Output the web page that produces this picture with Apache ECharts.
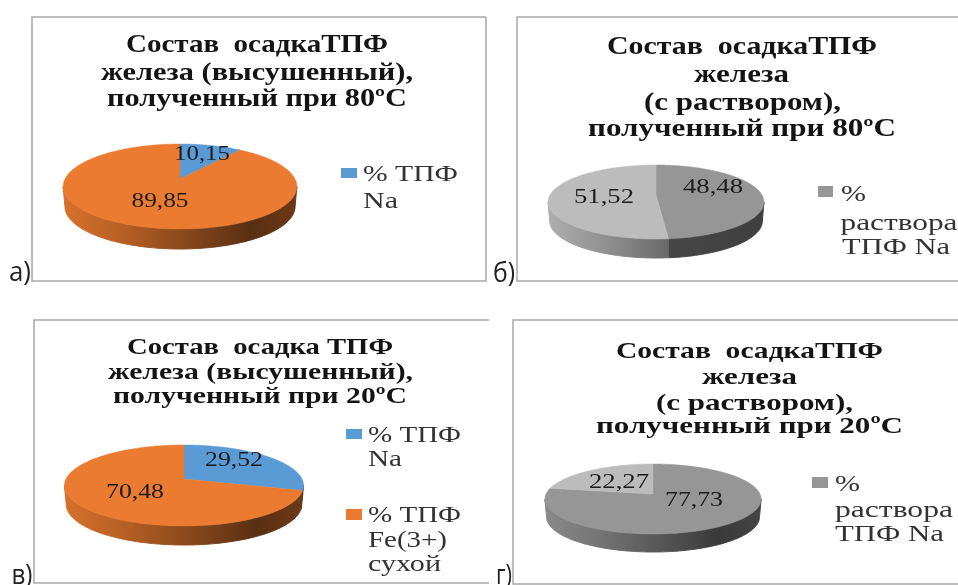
<!DOCTYPE html>
<html lang="ru">
<head>
<meta charset="utf-8">
<title>Состав осадка ТПФ железа</title>
<script src="https://cdn.jsdelivr.net/npm/echarts@6/dist/echarts.min.js"></script>
<style>
  html, body { margin: 0; padding: 0; background: #fff; }
  #chart { width: 958px; height: 585px; }
</style>
</head>
<body>
<div id="chart"></div>
<script>
// Slice values, in percent, clockwise from twelve o'clock
const valuesA = [10.15, 89.85];
const valuesB = [48.48, 51.52];
const valuesC = [29.52, 70.48];
const valuesD = [77.73, 22.27];

const colorsDry = ['#5b9bd5', '#ea7b30'];
const colorsWet = ['#969696', '#bcbcbc'];

const titleA = ['Состав  осадкаТПФ', 'железа (высушенный),', 'полученный при 80ºC'];
const titleB = ['Состав  осадкаТПФ', 'железа', '(с раствором),', 'полученный при 80ºC'];
const titleC = ['Состав  осадка ТПФ', 'железа (высушенный),', 'полученный при 20ºC'];
const titleD = ['Состав  осадкаТПФ', 'железа', '(с раствором),', 'полученный при 20ºC'];

const legendDry = ['% ТПФ', 'Na'];
const legendDry2 = ['% ТПФ', 'Fe(3+)', 'сухой'];
const legendWet = ['%', 'раствора', 'ТПФ Na'];

const SERIF = '"Liberation Serif", "Times New Roman", serif';
const FRAME = '#a8a8a8';
const TEXT_DROP = 1.5;

// Shading of a pie's side wall, from its left edge to its right edge
const wallShade = [[0, 0.92], [0.25, 0.78], [0.5, 0.6], [0.8, 0.38], [1, 0.46]];
const wallShadeDim = [[0, 0.6], [0.5, 0.47], [1, 0.42]];

// Layout of each panel: pie projection, text rows as [centre x, centre y, width]
const panels = [
  {
    letter: 'а)', letterBox: [20, 272, 22],
    values: valuesA, colors: colorsDry, walls: [wallShade, wallShade],
    frame: [[486, 17], [32, 17], [32, 281], [486, 281], [486, 17]],
    pie: { cx: 180, cy: 179, radius: 115, top: 35, bottom: 50, depth: 20 },
    labels: [[202, 153, 56], [160, 200, 57]],
    title: titleA, titleFont: 25,
    titleBoxes: [[257, 44, 262], [257, 72, 312], [257, 98, 300]],
    legend: [
      { swatch: [341, 168, 16, 10], color: colorsDry[0], lines: legendDry,
        boxes: [[410.5, 173, 95], [380.5, 200, 35]] }
    ]
  },
  {
    letter: 'б)', letterBox: [504, 273, 22],
    values: valuesB, colors: colorsWet, walls: [wallShadeDim, wallShade],
    frame: [[958, 17], [517, 17], [517, 281], [958, 281]],
    pie: { cx: 656, cy: 195, radius: 106, top: 30, bottom: 44, depth: 19 },
    labels: [[713, 186, 60], [604, 195.5, 60]],
    title: titleB, titleFont: 25,
    titleBoxes: [[742, 46, 270], [741.5, 74, 95], [742.5, 102, 197], [742, 128, 308]],
    legend: [
      { swatch: [818, 186, 15, 11], color: colorsWet[0], lines: legendWet,
        boxes: [[853.5, 193, 25], [899, 222, 117], [896, 246, 108]] }
    ]
  },
  {
    letter: 'в)', letterBox: [22, 575, 21],
    values: valuesC, colors: colorsDry, walls: [wallShade, wallShade],
    frame: [[489, 320], [34, 320], [34, 583], [489, 583]],
    pie: { cx: 184, cy: 479, radius: 118, top: 34, bottom: 47, depth: 19 },
    labels: [[234, 459, 58], [135, 491, 58]],
    title: titleC, titleFont: 23,
    titleBoxes: [[260, 347, 266], [260.5, 372, 305], [260, 396, 294]],
    legend: [
      { swatch: [346, 429, 16, 10], color: colorsDry[0], lines: legendDry,
        boxes: [[414.5, 434, 93], [385, 458, 34]] },
      { swatch: [346, 509, 16, 11], color: colorsDry[1], lines: legendDry2,
        boxes: [[414.5, 514, 93], [407.5, 539, 79], [404.5, 563, 73]] }
    ]
  },
  {
    letter: 'г)', letterBox: [504, 575, 16],
    values: valuesD, colors: colorsWet, walls: [wallShade, wallShade],
    frame: [[958, 320], [513, 320], [513, 584], [958, 584]],
    pie: { cx: 653, cy: 494, radius: 107, top: 30, bottom: 40, depth: 18 },
    labels: [[694, 499, 58], [619, 481, 60]],
    title: titleD, titleFont: 24,
    titleBoxes: [[749.5, 350, 267], [749.5, 376, 95], [754.5, 402, 197], [749.5, 425, 307]],
    legend: [
      { swatch: [812, 477, 16, 11], color: colorsWet[0], lines: legendWet,
        boxes: [[847.5, 483, 25], [894, 509, 118], [889.5, 533, 109]] }
    ]
  }
];

const measureCtx = document.createElement('canvas').getContext('2d');

// Text element stretched horizontally to occupy a given width
function fittedText(text, box, font, fill) {
  measureCtx.font = font;
  const natural = measureCtx.measureText(text).width;
  return {
    type: 'text',
    x: box[0], y: box[1] + TEXT_DROP,
    scaleX: box[2] / natural,
    z: 10,
    silent: true,
    style: { text, font, fill, align: 'center', verticalAlign: 'middle' }
  };
}

function shade(hex, factor) {
  const n = parseInt(hex.slice(1), 16);
  const ch = s => Math.round(((n >> s) & 255) * factor);
  return 'rgb(' + ch(16) + ',' + ch(8) + ',' + ch(0) + ')';
}

// Perspective view of the disc: the centre sits nearer the far edge of the ellipse
function projector(pie) {
  const k = (pie.bottom - pie.top) / (pie.bottom + pie.top);
  const b = pie.top * (1 + k);
  return {
    k,
    rim(deg, drop, shrink) {
      const t = deg * Math.PI / 180;
      const u = Math.sin(t), v = Math.cos(t);
      const w = 1 + k * v;
      return [pie.cx + shrink * pie.radius * u / w, pie.cy - b * v / w + drop];
    }
  };
}

function makeSeries(panel) {
  const total = panel.values.reduce((a, b) => a + b, 0);
  const pie = panel.pie;
  const proj = projector(pie);
  const frontFrom = Math.acos(-proj.k) * 180 / Math.PI;
  const frontTo = 360 - frontFrom;
  const halfWidth = pie.radius * 1.02;

  return {
    type: 'custom',
    coordinateSystem: 'none',
    silent: true,
    animation: false,
    data: panel.values.map(v => [v]),
    renderItem(params, api) {
      const i = params.dataIndex;
      const before = panel.values.slice(0, i).reduce((a, b) => a + b, 0);
      const start = before / total * 360;
      const end = (before + api.value(0)) / total * 360;
      const base = panel.colors[i];
      const children = [];

      // Side wall: only the part of the slice's arc that faces the viewer
      const a = Math.max(start, frontFrom), b = Math.min(end, frontTo);
      if (b > a) {
        const upper = [], lower = [];
        for (let d = a; d < b; d += 1) {
          upper.push(proj.rim(d, 0, 1));
          lower.push(proj.rim(d, pie.depth, 0.985));
        }
        upper.push(proj.rim(b, 0, 1));
        lower.push(proj.rim(b, pie.depth, 0.985));
        const gradient = {
          type: 'linear', global: true,
          x: pie.cx - halfWidth, y: 0, x2: pie.cx + halfWidth, y2: 0,
          colorStops: panel.walls[i].map(s => ({ offset: s[0], color: shade(base, s[1]) }))
        };
        children.push({
          type: 'polygon', z2: 1,
          shape: { points: upper.concat(lower.reverse()) },
          style: { fill: gradient, stroke: gradient, lineWidth: 1 }
        });
      }

      // Top face of the slice
      const pts = [[pie.cx, pie.cy]];
      for (let d = start; d < end; d += 1) pts.push(proj.rim(d, 0, 1));
      pts.push(proj.rim(end, 0, 1));
      children.push({
        type: 'polygon', z2: 2,
        shape: { points: pts },
        style: { fill: base, stroke: base, lineWidth: 0.5 }
      });

      // Value label with a decimal comma
      const label = fittedText(String(api.value(0)).replace('.', ','),
        panel.labels[i], '21px ' + SERIF, '#1c1c1c');
      label.z2 = 5;
      delete label.z;
      children.push(label);

      return { type: 'group', children };
    }
  };
}

function panelGraphics(panel) {
  const out = [];
  out.push({
    type: 'polyline', z: 1, silent: true,
    shape: { points: panel.frame },
    style: { stroke: FRAME, lineWidth: 1.5, fill: null }
  });
  panel.title.forEach((line, i) => {
    out.push(fittedText(line, panel.titleBoxes[i], 'bold ' + panel.titleFont + 'px ' + SERIF, '#141414'));
  });
  panel.legend.forEach(entry => {
    const s = entry.swatch;
    out.push({
      type: 'rect', z: 10, silent: true,
      shape: { x: s[0], y: s[1], width: s[2], height: s[3] },
      style: { fill: entry.color }
    });
    entry.lines.forEach((line, i) => {
      out.push(fittedText(line, entry.boxes[i], '24px ' + SERIF, '#333333'));
    });
  });
  out.push(fittedText(panel.letter, panel.letterBox, '27px "Open Sans", sans-serif', '#222222'));
  return out;
}

const chart = echarts.init(document.getElementById('chart'), null, { renderer: 'canvas' });
chart.setOption({
  backgroundColor: '#ffffff',
  animation: false,
  series: panels.map(makeSeries),
  graphic: { elements: panels.flatMap(panelGraphics) }
});
</script>
</body>
</html>
